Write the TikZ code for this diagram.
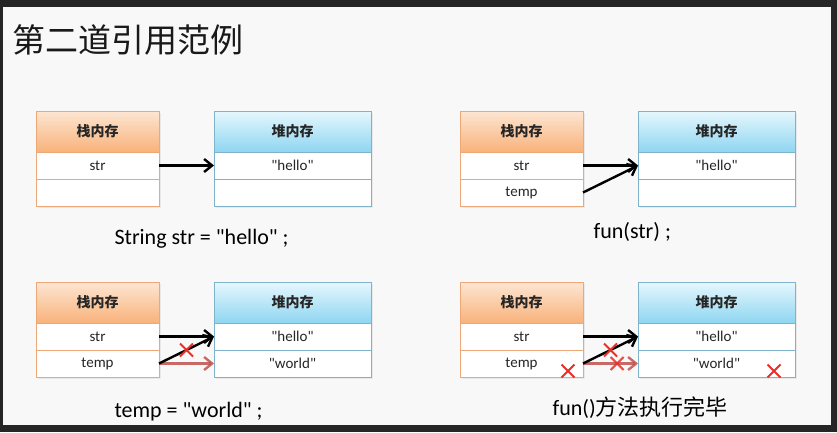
\documentclass[tikz,border=0pt]{standalone}
\usepackage{fontspec}
\setmainfont{Carlito}[Ligatures=TeXOff]
\newfontfamily\cjk{Noto Sans CJK SC}
\usetikzlibrary{positioning, arrows.meta, shadows, shapes.misc, calc}
\definecolor{frame}{HTML}{262626}
\definecolor{paper}{HTML}{F8F8F8}
\definecolor{stackline}{HTML}{EDA877}
\definecolor{stacktop}{HTML}{FDE6D3}
\definecolor{stackbot}{HTML}{F8B27A}
\definecolor{heapline}{HTML}{7FB2CB}
\definecolor{heaptop}{HTML}{E6F7FD}
\definecolor{heapbot}{HTML}{8ED6F1}
\definecolor{oldred}{HTML}{C0504D}
\definecolor{crossred}{HTML}{E8302A}

\begin{document}
\begin{tikzpicture}[x=1pt, y=-1pt,
    box/.style={inner sep=0pt, outer sep=0pt, text=black!85, font=\fontsize{15}{17}\selectfont,
      drop shadow={opacity=0.12, shadow xshift=1.5pt, shadow yshift=-1.5pt}},
    shead/.style={box, draw=stackline, minimum width=123pt, minimum height=41pt,
      top color=stacktop, bottom color=stackbot, font=\cjk\bfseries\fontsize{14}{16}\selectfont},
    srow/.style={box, draw=stackline, fill=white, minimum width=123pt, minimum height=27pt},
    hhead/.style={box, draw=heapline, minimum width=157pt, minimum height=41pt,
      top color=heaptop, bottom color=heapbot, font=\cjk\bfseries\fontsize{14}{16}\selectfont},
    hrow/.style={box, draw=heapline, fill=white, minimum width=157pt, minimum height=27pt},
    ptr/.style={line width=2.4pt, black, -{Straight Barb[length=8pt, width=13pt, line width=2.4pt]}},
    ptrold/.style={line width=2.4pt, oldred, opacity=0.85, -{Straight Barb[length=8pt, width=13pt, line width=2.4pt]}},
    xmark/.style={cross out, draw=crossred, line width=2pt, minimum size=11pt, inner sep=0pt},
    caption/.style={anchor=west, font=\fontsize{22}{26}\selectfont}]

  % frame and page
  \fill[frame] (0,0) rectangle (837,432);
  \fill[paper] (3,7) rectangle (831,425);

  \node[anchor=west, text=black!90, font=\cjk\fontsize{33}{36}\selectfont] (title) at (9,40) {第二道引用范例};

  % stack and heap boxes
  \foreach \i/\x/\y/\tb/\wb in {1/36/111/{}/{}, 2/460/111/temp/{}, 3/36/282/temp/"world", 4/460/282/temp/"world"} {
    \node[shead, anchor=north west] (s\i) at (\x,\y) {栈内存};
    \node[srow, below=0pt of s\i] (s\i a) {str};
    \node[srow, below=0pt of s\i a] (s\i b) {\tb};
    \node[hhead, anchor=north west] (h\i) at (\x+178,\y) {堆内存};
    \node[hrow, below=0pt of h\i] (h\i a) {"hello"};
    \node[hrow, below=0pt of h\i a] (h\i b) {\wb};
  }

  % references
  \draw[ptr] (s1a.east) -- (h1a.west);

  \draw[ptr] (s2a.east) -- (h2a.west);
  \draw[ptr] (s2b.east) -- (h2a.west);

  \draw[ptr] (s3a.east) -- (h3a.west);
  \draw[ptrold] (s3b.east) -- (h3b.west);
  \draw[ptr] (s3b.east) -- node[xmark] (x3) {} (h3a.west);

  \draw[ptr] (s4a.east) -- (h4a.west);
  \draw[ptrold] (s4b.east) -- node[xmark, pos=0.62] (x4r) {} (h4b.west);
  \draw[ptr] (s4b.east) -- node[xmark] (x4d) {} (h4a.west);
  \node[xmark] (x4s) at ($(s4b.south east)+(-15,-6)$) {};
  \node[xmark] (x4h) at ($(h4b.south east)+(-21,-6)$) {};

  % code lines
  \node[caption] (c1) at (111,239) {String str = "hello" ;};
  \node[caption] (c2) at (590,232) {fun(str) ;};
  \node[caption] (c3) at (111,412) {temp = "world" ;};
  \node[caption] (c4) at (549,408) {fun(){\cjk 方法执行完毕}};
\end{tikzpicture}
\end{document}
